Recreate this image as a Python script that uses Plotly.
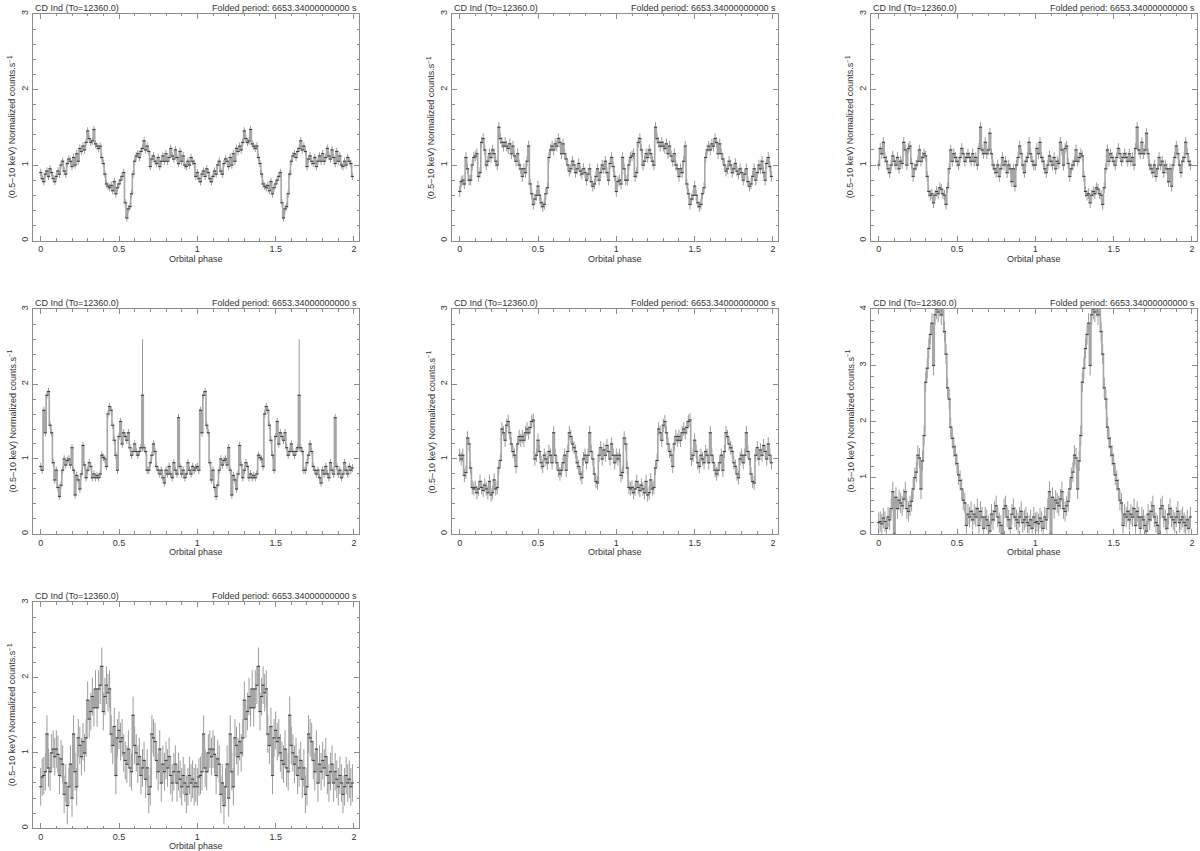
import numpy as np
import plotly.graph_objects as go

# folded light curves, 100 phase bins per cycle, plotted over two cycles
N_BINS = 100
TITLE_LEFT = "CD Ind (To=12360.0)"
TITLE_RIGHT = "Folded period: 6653.34000000000 s"
X_TITLE = "Orbital phase"
Y_TITLE = "(0.5–10 keV) Normalized counts.s<sup>−1</sup>"
X_TICKS = [0, 0.5, 1, 1.5, 2]
X_TICK_TEXT = ["0", "0.5", "1", "1.5", "2"]

RATE_1 = [
    0.90, 0.82, 0.78, 0.88, 0.92, 0.85, 0.95, 0.90, 0.82, 0.78,
    0.85, 0.92, 0.88, 1.00, 1.05, 0.92, 0.88, 1.02, 1.08, 1.05,
    0.98, 1.10, 1.00, 1.15, 1.05, 1.22, 1.18, 1.25, 1.20, 1.30,
    1.45, 1.35, 1.30, 1.32, 1.47, 1.28, 1.25, 1.22, 1.25, 1.10,
    1.02, 0.88, 0.75, 0.72, 0.70, 0.73, 0.66, 0.78, 0.62, 0.70,
    0.75, 0.80, 0.85, 0.90, 0.50, 0.30, 0.42, 0.45, 0.62, 0.88,
    1.05, 1.12, 1.15, 1.10, 1.18, 1.22, 1.32, 1.20, 1.25, 1.18,
    0.98, 1.08, 1.12, 1.05, 1.02, 1.10, 0.98, 1.05, 1.12, 1.05,
    1.15, 1.05, 1.10, 1.22, 1.12, 1.08, 1.20, 1.10, 1.02, 1.18,
    1.05, 1.12, 1.00, 0.98, 1.05, 1.00, 1.10, 1.05, 1.02, 0.85,
]
RATE_2 = [
    0.65, 0.78, 0.80, 0.75, 1.10, 0.95, 0.80, 0.80, 1.00, 1.10,
    1.12, 1.15, 0.85, 0.90, 1.30, 1.35, 1.20, 1.00, 1.05, 1.15,
    1.10, 1.20, 1.15, 1.05, 1.00, 1.50, 1.35, 1.30, 1.25, 1.30,
    1.25, 1.22, 1.28, 1.15, 1.25, 1.12, 1.05, 1.15, 1.00, 0.95,
    0.85, 0.95, 0.90, 1.05, 1.25, 0.75, 0.62, 0.48, 0.55, 0.60,
    0.72, 0.60, 0.50, 0.45, 0.48, 0.62, 0.70, 1.10, 1.20, 1.25,
    1.20, 1.28, 1.25, 1.35, 1.30, 1.15, 1.28, 1.15, 1.08, 1.00,
    0.92, 0.95, 1.05, 1.00, 0.90, 0.95, 1.02, 0.92, 0.88, 0.95,
    0.90, 0.80, 0.88, 0.95, 0.78, 0.72, 0.75, 0.85, 0.95, 0.80,
    0.90, 1.00, 0.95, 1.05, 0.90, 0.80, 1.02, 1.10, 0.98, 0.85,
]
RATE_3 = [
    1.00, 1.22, 1.15, 1.30, 1.10, 1.05, 0.95, 0.90, 1.00, 1.12,
    1.05, 1.00, 1.10, 0.95, 1.05, 1.02, 1.30, 1.20, 1.00, 1.22,
    1.25, 1.02, 0.85, 0.95, 1.00, 1.05, 1.20, 1.05, 1.10, 1.15,
    1.12, 0.85, 0.65, 0.60, 0.62, 0.50, 0.60, 0.65, 0.62, 0.70,
    0.68, 0.62, 0.60, 0.48, 0.70, 0.95, 1.20, 1.05, 1.15, 1.10,
    1.05, 1.00, 1.10, 1.22, 1.15, 1.05, 1.10, 1.15, 1.10, 1.05,
    1.15, 1.05, 1.10, 1.00, 1.22, 1.50, 1.20, 1.15, 1.30, 1.15,
    1.20, 1.42, 1.15, 1.00, 0.95, 0.90, 1.00, 0.85, 0.95, 1.10,
    1.00, 1.05, 0.90, 1.00, 0.95, 0.78, 0.95, 0.72, 1.00, 1.10,
    1.25, 1.15, 1.00, 0.90, 1.05, 1.10, 1.30, 1.15, 1.05, 1.00,
]
RATE_4 = [
    0.90, 0.85, 1.65, 1.35, 1.85, 1.90, 1.45, 1.35, 0.95, 0.72,
    0.85, 0.62, 0.50, 0.65, 0.85, 1.00, 0.92, 0.98, 1.00, 0.92,
    1.15, 0.85, 0.52, 0.78, 0.72, 0.60, 0.80, 1.18, 0.92, 0.75,
    0.85, 0.95, 0.90, 0.75, 0.80, 0.75, 0.78, 0.75, 0.80, 1.05,
    1.02, 1.00, 0.90, 1.60, 1.70, 1.65, 1.45, 1.25, 1.05, 0.85,
    1.30, 1.50, 1.20, 1.35, 1.30, 1.25, 1.35, 1.15, 1.05, 1.10,
    1.20, 1.10, 1.05, 1.10, 1.15, 1.85, 1.15, 1.10, 0.85, 0.85,
    0.95, 1.05, 1.20, 1.10, 0.90, 0.85, 0.80, 0.85, 0.75, 0.68,
    0.85, 0.80, 0.90, 0.80, 0.75, 0.95, 0.85, 0.80, 1.55, 0.90,
    0.80, 0.85, 0.75, 0.80, 0.95, 0.85, 0.80, 0.90, 0.85, 0.88,
]
RATE_5 = [
    1.05, 1.00, 1.05, 0.78, 0.82, 1.28, 1.20, 0.88, 0.62, 0.60,
    0.62, 0.55, 0.60, 0.70, 0.62, 0.58, 0.65, 0.60, 0.55, 0.70,
    0.52, 0.55, 0.72, 0.60, 0.62, 0.88, 0.98, 1.40, 1.35, 1.25,
    1.45, 1.50, 1.35, 1.20, 1.10, 1.05, 0.90, 1.20, 1.30, 1.25,
    1.30, 1.25, 1.35, 1.40, 1.35, 1.42, 1.50, 1.52, 1.00, 1.05,
    1.25, 1.10, 0.95, 0.90, 1.05, 1.00, 0.95, 1.10, 1.05, 0.95,
    1.35, 1.05, 0.95, 0.85, 0.80, 0.85, 0.95, 1.05, 0.85, 1.10,
    1.35, 1.30, 1.20, 1.15, 1.10, 0.95, 0.90, 0.80, 0.75, 1.00,
    1.05, 0.95, 1.05, 1.35, 1.10, 1.00, 0.80, 0.70, 0.68, 1.05,
    1.15, 1.00, 1.12, 1.05, 1.18, 1.10, 1.00, 1.20, 1.05, 0.95,
]
RATE_6 = [
    0.20, 0.22, 0.18, 0.28, 0.22, 0.10, 0.30, 0.25, 0.45, 0.75,
    0.00, 0.65, 0.45, 0.60, 0.55, 0.50, 0.62, 0.75, 0.45, 0.40,
    0.50, 0.58, 0.80, 1.00, 1.10, 1.40, 1.35, 0.80, 1.30, 1.75,
    2.70, 2.95, 3.30, 3.55, 3.75, 3.00, 3.90, 4.00, 3.95, 4.05,
    3.90, 4.05, 3.60, 3.20, 2.60, 2.40, 1.90, 1.70, 1.55, 1.40,
    1.25, 1.05, 0.95, 0.80, 0.60, 0.55, 0.15, 0.35, 0.30, 0.40,
    0.25, 0.35, 0.30, 0.45, 0.15, 0.40, 0.30, 0.10, 0.30, 0.25,
    0.15, 0.05, 0.35, 0.25, 0.40, 0.50, 0.30, 0.20, 0.15, 0.00,
    0.45, 0.50, 0.30, 0.25, 0.10, 0.35, 0.45, 0.30, 0.25, 0.20,
    0.30, 0.40, 0.20, 0.25, 0.30, 0.20, 0.15, 0.25, 0.10, 0.30,
]
RATE_7 = [
    0.55, 0.68, 0.70, 0.75, 1.25, 0.80, 0.75, 1.00, 1.05, 0.95,
    1.05, 0.98, 0.70, 0.92, 0.85, 0.45, 0.60, 0.30, 0.55, 0.85,
    0.40, 1.25, 0.75, 0.55, 1.20, 1.10, 0.95, 1.15, 1.00, 1.20,
    1.70, 1.45, 1.55, 1.75, 1.60, 1.85, 1.60, 1.85, 1.90, 2.15,
    1.55, 1.75, 1.90, 1.80, 1.85, 1.25, 1.10, 1.35, 0.70, 1.20,
    1.30, 1.15, 1.20, 1.00, 0.90, 0.85, 1.05, 0.80, 0.75, 1.50,
    1.10, 1.00, 0.85, 0.95, 0.70, 0.80, 0.90, 0.65, 0.80, 0.45,
    0.55, 1.25, 1.20, 1.15, 0.90, 0.75, 1.05, 0.60, 0.85, 0.75,
    0.90, 0.80, 0.95, 0.70, 0.60, 0.75, 0.85, 0.60, 0.75, 0.65,
    0.55, 0.70, 0.60, 0.45, 0.55, 0.70, 0.60, 0.65, 0.55, 0.60,
]

# typical 1-sigma error per panel; panel 4 has one poorly sampled bin
ERRORS = [0.05, 0.07, 0.07, 0.05, 0.09, 0.18, 0.25]
ERROR_OVERRIDES = {3: {65: 0.75}}
Y_MAX = [3, 3, 3, 3, 3, 4, 3]
RATES = [RATE_1, RATE_2, RATE_3, RATE_4, RATE_5, RATE_6, RATE_7]

FIG_W, FIG_H = 1200, 851
COL_PX = [(33, 359), (452, 778), (871, 1197)]
ROW_PX = [(10, 238), (307, 533), (602, 829)]

FONT = "Liberation Sans, Arial, sans-serif"
TEXT_COLOR = "#333333"
AXIS_COLOR = "#8c8c8c"

phase_one = np.arange(N_BINS) / N_BINS
phase = np.concatenate([phase_one, phase_one + 1])

fig = go.Figure()
annotations = []
layout_axes = {}

for idx, rate in enumerate(RATES):
    n = idx + 1
    row, col = divmod(idx, 3)
    x0, x1 = COL_PX[col][0] / FIG_W, COL_PX[col][1] / FIG_W
    y0, y1 = 1 - ROW_PX[row][1] / FIG_H, 1 - ROW_PX[row][0] / FIG_H

    err = np.full(N_BINS, ERRORS[idx])
    for b, e in ERROR_OVERRIDES.get(idx, {}).items():
        err[b] = e
    y = np.tile(rate, 2)
    ey = np.tile(err, 2)

    xa = "x" if n == 1 else f"x{n}"
    ya = "y" if n == 1 else f"y{n}"
    fig.add_trace(go.Scatter(
        x=phase, y=y, xaxis=xa, yaxis=ya,
        mode="lines+markers",
        line=dict(shape="hvh", color="#a6a6a6", width=1.6),
        marker=dict(symbol="line-ew", size=2.2,
                    line=dict(width=1, color="#3c3c3c")),
        error_y=dict(type="data", array=ey, visible=True,
                     color="#9c9c9c", thickness=1, width=0),
        showlegend=False, cliponaxis=True,
    ))

    common = dict(
        showline=True, linecolor=AXIS_COLOR, linewidth=1, mirror="allticks",
        ticks="inside", ticklen=5, tickcolor=AXIS_COLOR, tickwidth=1,
        showgrid=False, zeroline=False,
        tickfont=dict(family=FONT, size=9, color=TEXT_COLOR),
    )
    layout_axes["xaxis" if n == 1 else f"xaxis{n}"] = dict(
        common, domain=[x0, x1], anchor=ya, range=[-0.049, 2.032],
        tickvals=X_TICKS, ticktext=X_TICK_TEXT,
        minor=dict(dtick=0.1, ticks="inside", ticklen=2.5,
                   tickcolor=AXIS_COLOR, showgrid=False),
    )
    layout_axes["yaxis" if n == 1 else f"yaxis{n}"] = dict(
        common, domain=[y0, y1], anchor=xa, range=[0, Y_MAX[idx]],
        dtick=1, tickangle=-90,
        minor=dict(dtick=0.2, ticks="inside", ticklen=2.5,
                   tickcolor=AXIS_COLOR, showgrid=False),
    )

    tfont = dict(family=FONT, size=9, color=TEXT_COLOR)
    annotations += [
        dict(text=TITLE_LEFT, xref="paper", yref="paper", x=x0, y=y1,
             xanchor="left", yanchor="bottom", showarrow=False, font=tfont,
             yshift=-1),
        dict(text=TITLE_RIGHT, xref="paper", yref="paper", x=x1, y=y1,
             xanchor="right", yanchor="bottom", showarrow=False, font=tfont,
             yshift=-1),
        dict(text=X_TITLE, xref="paper", yref="paper", x=(x0 + x1) / 2,
             y=y0 - 11 / FIG_H, xanchor="center", yanchor="top",
             showarrow=False, font=tfont),
        dict(text=Y_TITLE, xref="paper", yref="paper", x=x0 - 21 / FIG_W,
             y=(y0 + y1) / 2, xanchor="center", yanchor="middle",
             textangle=-90, showarrow=False, font=tfont),
    ]

fig.update_layout(
    width=FIG_W, height=FIG_H,
    margin=dict(l=0, r=0, t=0, b=0),
    paper_bgcolor="white", plot_bgcolor="white",
    font=dict(family=FONT, color=TEXT_COLOR),
    annotations=annotations,
    **layout_axes,
)

# drop the default page margin so the figure sits at the window origin
fig.write_html("out.html", config={"displayModeBar": False},
               post_script="document.body.style.margin='0';document.body.style.overflow='hidden';")
